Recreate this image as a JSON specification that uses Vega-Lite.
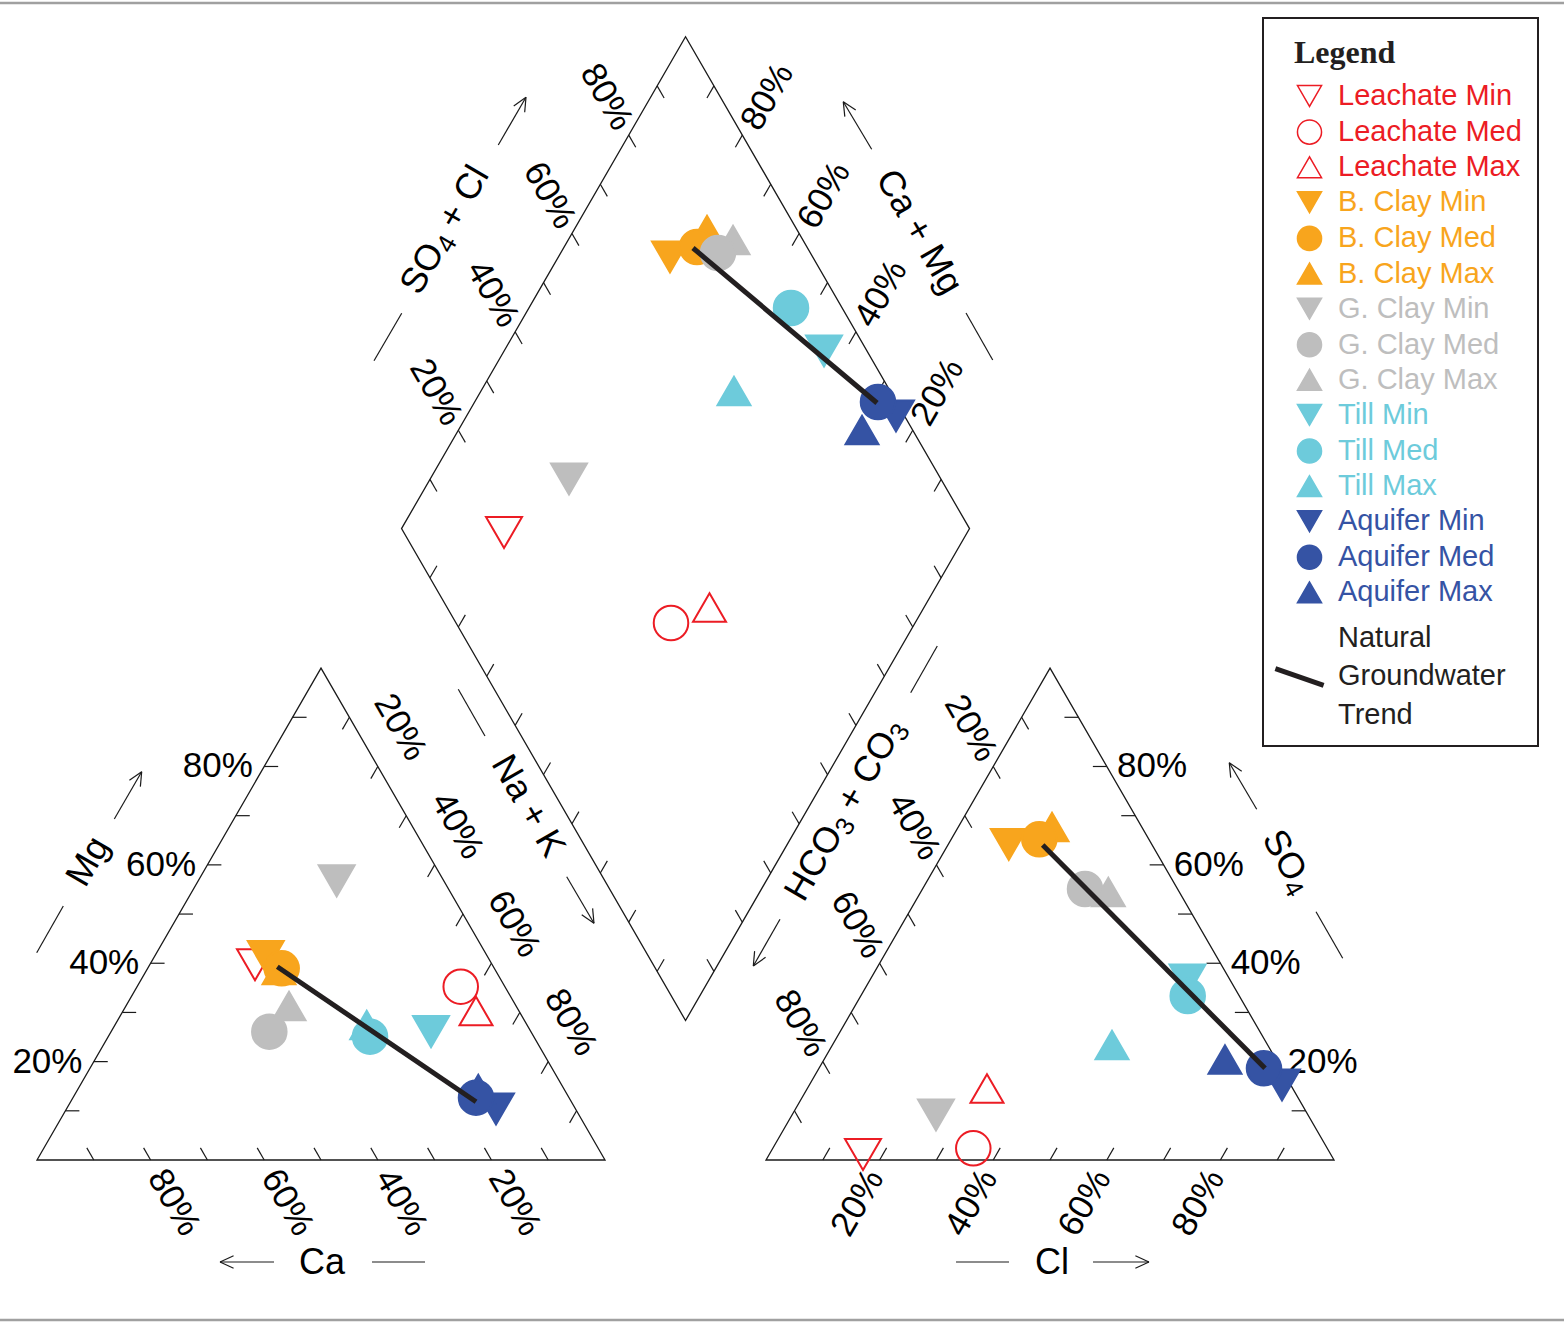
{
  "$schema": "https://vega.github.io/schema/vega-lite/v6.json",
  "width": 1564,
  "height": 1323,
  "autosize": {"type": "none"},
  "padding": 0,
  "background": "#ffffff",
  "config": {"font": "Liberation Sans", "view": {"stroke": null}},
  "datasets": {
    "frame": [
      {"x": -6.52, "x2": 268.84, "y": 203.7},
      {"x": -6.52, "x2": 268.84, "y": -28.17}
    ],
    "outline": [
      {"shape": "left", "i": 0, "x": 50, "y": 0},
      {"shape": "left", "i": 1, "x": 100, "y": 0},
      {"shape": "left", "i": 2, "x": 50, "y": 86.6},
      {"shape": "left", "i": 3, "x": 0, "y": 0},
      {"shape": "left", "i": 4, "x": 50, "y": 0},
      {"shape": "right", "i": 0, "x": 178.35, "y": 0},
      {"shape": "right", "i": 1, "x": 228.35, "y": 0},
      {"shape": "right", "i": 2, "x": 178.35, "y": 86.6},
      {"shape": "right", "i": 3, "x": 128.35, "y": 0},
      {"shape": "right", "i": 4, "x": 178.35, "y": 0},
      {"shape": "diamond", "i": 0, "x": 89.18, "y": 154.46},
      {"shape": "diamond", "i": 1, "x": 114.18, "y": 197.76},
      {"shape": "diamond", "i": 2, "x": 164.18, "y": 111.16},
      {"shape": "diamond", "i": 3, "x": 114.18, "y": 24.55},
      {"shape": "diamond", "i": 4, "x": 64.18, "y": 111.16},
      {"shape": "diamond", "i": 5, "x": 89.18, "y": 154.46}
    ],
    "segs": [
      {"x": 10, "y": 0, "x2": 8.77, "y2": 2.13}, {"x": 20, "y": 0, "x2": 18.77, "y2": 2.13}, {"x": 30, "y": 0, "x2": 28.77, "y2": 2.13},
      {"x": 40, "y": 0, "x2": 38.77, "y2": 2.13}, {"x": 50, "y": 0, "x2": 48.77, "y2": 2.13}, {"x": 60, "y": 0, "x2": 58.77, "y2": 2.13},
      {"x": 70, "y": 0, "x2": 68.77, "y2": 2.13}, {"x": 80, "y": 0, "x2": 78.77, "y2": 2.13}, {"x": 90, "y": 0, "x2": 88.77, "y2": 2.13},
      {"x": 5, "y": 8.66, "x2": 7.46, "y2": 8.66}, {"x": 10, "y": 17.32, "x2": 12.46, "y2": 17.32}, {"x": 15, "y": 25.98, "x2": 17.46, "y2": 25.98},
      {"x": 20, "y": 34.64, "x2": 22.46, "y2": 34.64}, {"x": 25, "y": 43.3, "x2": 27.46, "y2": 43.3}, {"x": 30, "y": 51.96, "x2": 32.46, "y2": 51.96},
      {"x": 35, "y": 60.62, "x2": 37.46, "y2": 60.62}, {"x": 40, "y": 69.28, "x2": 42.46, "y2": 69.28}, {"x": 45, "y": 77.94, "x2": 47.46, "y2": 77.94},
      {"x": 95, "y": 8.66, "x2": 93.77, "y2": 6.53}, {"x": 90, "y": 17.32, "x2": 88.77, "y2": 15.19}, {"x": 85, "y": 25.98, "x2": 83.77, "y2": 23.85},
      {"x": 80, "y": 34.64, "x2": 78.77, "y2": 32.51}, {"x": 75, "y": 43.3, "x2": 73.77, "y2": 41.17}, {"x": 70, "y": 51.96, "x2": 68.77, "y2": 49.83},
      {"x": 65, "y": 60.62, "x2": 63.77, "y2": 58.49}, {"x": 60, "y": 69.28, "x2": 58.77, "y2": 67.15}, {"x": 55, "y": 77.94, "x2": 53.77, "y2": 75.81},
      {"x": 138.35, "y": 0, "x2": 139.58, "y2": 2.13}, {"x": 148.35, "y": 0, "x2": 149.58, "y2": 2.13}, {"x": 158.35, "y": 0, "x2": 159.58, "y2": 2.13},
      {"x": 168.35, "y": 0, "x2": 169.58, "y2": 2.13}, {"x": 178.35, "y": 0, "x2": 179.58, "y2": 2.13}, {"x": 188.35, "y": 0, "x2": 189.58, "y2": 2.13},
      {"x": 198.35, "y": 0, "x2": 199.58, "y2": 2.13}, {"x": 208.35, "y": 0, "x2": 209.58, "y2": 2.13}, {"x": 218.35, "y": 0, "x2": 219.58, "y2": 2.13},
      {"x": 133.35, "y": 8.66, "x2": 134.58, "y2": 6.53}, {"x": 138.35, "y": 17.32, "x2": 139.58, "y2": 15.19}, {"x": 143.35, "y": 25.98, "x2": 144.58, "y2": 23.85},
      {"x": 148.35, "y": 34.64, "x2": 149.58, "y2": 32.51}, {"x": 153.35, "y": 43.3, "x2": 154.58, "y2": 41.17}, {"x": 158.35, "y": 51.96, "x2": 159.58, "y2": 49.83},
      {"x": 163.35, "y": 60.62, "x2": 164.58, "y2": 58.49}, {"x": 168.35, "y": 69.28, "x2": 169.58, "y2": 67.15}, {"x": 173.35, "y": 77.94, "x2": 174.58, "y2": 75.81},
      {"x": 223.35, "y": 8.66, "x2": 220.89, "y2": 8.66}, {"x": 218.35, "y": 17.32, "x2": 215.89, "y2": 17.32}, {"x": 213.35, "y": 25.98, "x2": 210.89, "y2": 25.98},
      {"x": 208.35, "y": 34.64, "x2": 205.89, "y2": 34.64}, {"x": 203.35, "y": 43.3, "x2": 200.89, "y2": 43.3}, {"x": 198.35, "y": 51.96, "x2": 195.89, "y2": 51.96},
      {"x": 193.35, "y": 60.62, "x2": 190.89, "y2": 60.62}, {"x": 188.35, "y": 69.28, "x2": 185.89, "y2": 69.28}, {"x": 183.35, "y": 77.94, "x2": 180.89, "y2": 77.94},
      {"x": 69.18, "y": 119.82, "x2": 70.41, "y2": 117.69}, {"x": 74.18, "y": 128.48, "x2": 75.41, "y2": 126.35}, {"x": 79.18, "y": 137.14, "x2": 80.41, "y2": 135.01},
      {"x": 84.18, "y": 145.8, "x2": 85.41, "y2": 143.67}, {"x": 89.18, "y": 154.46, "x2": 90.41, "y2": 152.33}, {"x": 94.18, "y": 163.12, "x2": 95.41, "y2": 160.99},
      {"x": 99.18, "y": 171.78, "x2": 100.41, "y2": 169.65}, {"x": 104.18, "y": 180.44, "x2": 105.41, "y2": 178.31}, {"x": 109.18, "y": 189.1, "x2": 110.41, "y2": 186.97},
      {"x": 119.18, "y": 189.1, "x2": 117.95, "y2": 186.97}, {"x": 124.18, "y": 180.44, "x2": 122.95, "y2": 178.31}, {"x": 129.18, "y": 171.78, "x2": 127.95, "y2": 169.65},
      {"x": 134.18, "y": 163.12, "x2": 132.95, "y2": 160.99}, {"x": 139.18, "y": 154.46, "x2": 137.95, "y2": 152.33}, {"x": 144.18, "y": 145.8, "x2": 142.95, "y2": 143.67},
      {"x": 149.18, "y": 137.14, "x2": 147.95, "y2": 135.01}, {"x": 154.18, "y": 128.48, "x2": 152.95, "y2": 126.35}, {"x": 159.18, "y": 119.82, "x2": 157.95, "y2": 117.69},
      {"x": 69.18, "y": 102.5, "x2": 70.41, "y2": 104.63}, {"x": 74.18, "y": 93.84, "x2": 75.41, "y2": 95.97}, {"x": 79.18, "y": 85.18, "x2": 80.41, "y2": 87.31},
      {"x": 84.18, "y": 76.52, "x2": 85.41, "y2": 78.65}, {"x": 89.18, "y": 67.86, "x2": 90.41, "y2": 69.99}, {"x": 94.18, "y": 59.2, "x2": 95.41, "y2": 61.33},
      {"x": 99.18, "y": 50.54, "x2": 100.41, "y2": 52.67}, {"x": 104.18, "y": 41.88, "x2": 105.41, "y2": 44.01}, {"x": 109.18, "y": 33.22, "x2": 110.41, "y2": 35.35},
      {"x": 119.18, "y": 33.21, "x2": 117.95, "y2": 35.34}, {"x": 124.18, "y": 41.87, "x2": 122.95, "y2": 44.0}, {"x": 129.18, "y": 50.53, "x2": 127.95, "y2": 52.66},
      {"x": 134.18, "y": 59.19, "x2": 132.95, "y2": 61.32}, {"x": 139.18, "y": 67.85, "x2": 137.95, "y2": 69.98}, {"x": 144.18, "y": 76.51, "x2": 142.95, "y2": 78.64},
      {"x": 149.18, "y": 85.17, "x2": 147.95, "y2": 87.3}, {"x": 154.18, "y": 93.83, "x2": 152.95, "y2": 95.96}, {"x": 159.18, "y": 102.49, "x2": 157.95, "y2": 104.62},
      {"x": 41.73, "y": -17.96, "x2": 32.22, "y2": -17.96}, {"x": 32.22, "y": -17.96, "x2": 34.61, "y2": -16.85}, {"x": 32.22, "y": -17.96, "x2": 34.61, "y2": -19.07},
      {"x": 185.92, "y": -17.96, "x2": 195.77, "y2": -17.96}, {"x": 195.77, "y": -17.96, "x2": 193.38, "y2": -16.85}, {"x": 195.77, "y": -17.96, "x2": 193.38, "y2": -19.07},
      {"x": 13.61, "y": 60.04, "x2": 18.43, "y2": 68.36}, {"x": 18.43, "y": 68.36, "x2": 16.27, "y2": 66.85}, {"x": 18.43, "y": 68.36, "x2": 18.2, "y2": 65.74},
      {"x": 81.21, "y": 178.7, "x2": 86.09, "y2": 187.1}, {"x": 86.09, "y": 187.1, "x2": 83.93, "y2": 185.58}, {"x": 86.09, "y": 187.1, "x2": 85.86, "y2": 184.47},
      {"x": 146.95, "y": 177.94, "x2": 141.95, "y2": 186.32}, {"x": 141.95, "y": 186.32, "x2": 142.22, "y2": 183.7}, {"x": 141.95, "y": 186.32, "x2": 144.14, "y2": 184.84},
      {"x": 93.26, "y": 49.88, "x2": 98.06, "y2": 41.67}, {"x": 98.06, "y": 41.67, "x2": 97.82, "y2": 44.3}, {"x": 98.06, "y": 41.67, "x2": 95.9, "y2": 43.17},
      {"x": 130.81, "y": 42.38, "x2": 126.11, "y2": 34.15}, {"x": 126.11, "y": 34.15, "x2": 128.27, "y2": 35.69}, {"x": 126.11, "y": 34.15, "x2": 126.34, "y2": 36.78},
      {"x": 214.74, "y": 61.74, "x2": 209.91, "y2": 69.95}, {"x": 209.91, "y": 69.95, "x2": 210.16, "y2": 67.32}, {"x": 209.91, "y": 69.95, "x2": 212.1, "y2": 68.45},
      {"x": 58.98, "y": -17.96, "x2": 68.31, "y2": -17.96}, {"x": 161.8, "y": -17.96, "x2": 171.13, "y2": -17.96},
      {"x": -0.05, "y": 36.5, "x2": 4.63, "y2": 44.72}, {"x": 59.33, "y": 140.72, "x2": 64.21, "y2": 149.07},
      {"x": 163.56, "y": 149.12, "x2": 168.26, "y2": 140.85}, {"x": 74.17, "y": 82.87, "x2": 78.87, "y2": 74.65},
      {"x": 153.82, "y": 82.27, "x2": 158.5, "y2": 90.49}, {"x": 225.18, "y": 43.71, "x2": 229.88, "y2": 35.51}
    ],
    "labels": [
      {"set": "right", "text": "80%", "x": 38.0, "y": 69.28},
      {"set": "right", "text": "60%", "x": 28.0, "y": 51.96},
      {"set": "right", "text": "40%", "x": 18.0, "y": 34.64},
      {"set": "right", "text": "20%", "x": 8.0, "y": 17.32},
      {"set": "left", "text": "80%", "x": 190.15, "y": 69.28},
      {"set": "left", "text": "60%", "x": 200.15, "y": 51.96},
      {"set": "left", "text": "40%", "x": 210.15, "y": 34.64},
      {"set": "left", "text": "20%", "x": 220.15, "y": 17.32},
      {"set": "p60", "text": "80%", "x": 24.12, "y": -7.45},
      {"set": "p60", "text": "60%", "x": 44.12, "y": -7.45},
      {"set": "p60", "text": "40%", "x": 64.12, "y": -7.45},
      {"set": "p60", "text": "20%", "x": 84.12, "y": -7.45},
      {"set": "p60", "text": "20%", "x": 63.98, "y": 76.2},
      {"set": "p60", "text": "40%", "x": 73.98, "y": 58.87},
      {"set": "p60", "text": "60%", "x": 83.98, "y": 41.55},
      {"set": "p60", "text": "80%", "x": 93.98, "y": 24.23},
      {"set": "p60", "text": "80%", "x": 100.26, "y": 187.15},
      {"set": "p60", "text": "60%", "x": 90.26, "y": 169.83},
      {"set": "p60", "text": "40%", "x": 80.26, "y": 152.5},
      {"set": "p60", "text": "20%", "x": 70.26, "y": 135.18},
      {"set": "p60", "text": "20%", "x": 164.4, "y": 76.04},
      {"set": "p60", "text": "40%", "x": 154.4, "y": 58.71},
      {"set": "p60", "text": "60%", "x": 144.4, "y": 41.39},
      {"set": "p60", "text": "80%", "x": 134.4, "y": 24.06},
      {"set": "m60", "text": "80%", "x": 128.55, "y": 187.15},
      {"set": "m60", "text": "60%", "x": 138.55, "y": 169.83},
      {"set": "m60", "text": "40%", "x": 148.55, "y": 152.51},
      {"set": "m60", "text": "20%", "x": 158.55, "y": 135.19},
      {"set": "m60", "text": "20%", "x": 144.47, "y": -7.5},
      {"set": "m60", "text": "40%", "x": 164.47, "y": -7.5},
      {"set": "m60", "text": "60%", "x": 184.47, "y": -7.5},
      {"set": "m60", "text": "80%", "x": 204.47, "y": -7.5}
    ],
    "titles": [
      {"set": "h", "text": "Ca", "x": 50.18, "y": -18.13},
      {"set": "h", "text": "Cl", "x": 178.7, "y": -18.13},
      {"set": "m60", "text": "Mg", "x": 9.03, "y": 52.52},
      {"set": "p60", "text": "Na + K", "x": 86.44, "y": 62.32},
      {"set": "p60", "text": "Ca + Mg", "x": 155.28, "y": 163.38}
    ],
    "pieces": [
      {"set": "m60", "text": "SO", "x": 65.63, "y": 152.98},
      {"set": "m60", "text": "+ Cl", "x": 72.32, "y": 164.54},
      {"set": "m60", "text": "HCO", "x": 133.33, "y": 46.16},
      {"set": "m60", "text": "+ CO", "x": 142.47, "y": 62.01},
      {"set": "p60", "text": "SO", "x": 217.25, "y": 57.55}
    ],
    "subs": [
      {"set": "m60", "text": "4", "x": 71.58, "y": 160.11},
      {"set": "m60", "text": "3", "x": 141.74, "y": 57.57},
      {"set": "m60", "text": "3", "x": 151.33, "y": 74.17},
      {"set": "p60", "text": "4", "x": 220.46, "y": 48.84}
    ],
    "points": [
      {"series": "Leachate Min", "stat": "Min", "x": 82.22, "y": 110.48},
      {"series": "Leachate Min", "stat": "Min", "x": 38.38, "y": 34.38},
      {"series": "Leachate Min", "stat": "Min", "x": 145.42, "y": 0.97},
      {"series": "Leachate Med", "stat": "Med", "x": 111.62, "y": 94.54},
      {"series": "Leachate Med", "stat": "Med", "x": 74.6, "y": 30.51},
      {"series": "Leachate Med", "stat": "Med", "x": 164.84, "y": 2.06},
      {"series": "Leachate Max", "stat": "Max", "x": 118.4, "y": 97.27},
      {"series": "Leachate Max", "stat": "Max", "x": 77.29, "y": 26.23},
      {"series": "Leachate Max", "stat": "Max", "x": 167.25, "y": 12.59},
      {"series": "B. Clay Min", "stat": "Min", "x": 111.44, "y": 158.98},
      {"series": "B. Clay Min", "stat": "Min", "x": 40.28, "y": 35.79},
      {"series": "B. Clay Min", "stat": "Min", "x": 171.09, "y": 55.55},
      {"series": "B. Clay Max", "stat": "Max", "x": 117.96, "y": 163.73},
      {"series": "B. Clay Max", "stat": "Max", "x": 42.61, "y": 33.45},
      {"series": "B. Clay Max", "stat": "Max", "x": 178.7, "y": 58.63},
      {"series": "B. Clay Med", "stat": "Med", "x": 116.2, "y": 160.74},
      {"series": "B. Clay Med", "stat": "Med", "x": 43.08, "y": 33.75},
      {"series": "B. Clay Med", "stat": "Med", "x": 176.46, "y": 56.46},
      {"series": "G. Clay Min", "stat": "Min", "x": 93.66, "y": 119.89},
      {"series": "G. Clay Min", "stat": "Min", "x": 52.76, "y": 49.15},
      {"series": "G. Clay Min", "stat": "Min", "x": 158.27, "y": 7.92},
      {"series": "G. Clay Max", "stat": "Max", "x": 122.54, "y": 161.97},
      {"series": "G. Clay Max", "stat": "Max", "x": 44.37, "y": 27.11},
      {"series": "G. Clay Max", "stat": "Max", "x": 188.61, "y": 47.18},
      {"series": "G. Clay Med", "stat": "Med", "x": 119.89, "y": 159.68},
      {"series": "G. Clay Med", "stat": "Med", "x": 40.9, "y": 22.59},
      {"series": "G. Clay Med", "stat": "Med", "x": 184.51, "y": 47.71},
      {"series": "Till Min", "stat": "Min", "x": 138.56, "y": 142.43},
      {"series": "Till Min", "stat": "Min", "x": 69.37, "y": 22.59},
      {"series": "Till Min", "stat": "Min", "x": 202.55, "y": 31.69},
      {"series": "Till Max", "stat": "Max", "x": 122.71, "y": 135.39},
      {"series": "Till Max", "stat": "Max", "x": 58.05, "y": 23.77},
      {"series": "Till Max", "stat": "Max", "x": 189.26, "y": 20.25},
      {"series": "Till Med", "stat": "Med", "x": 132.75, "y": 150.0},
      {"series": "Till Med", "stat": "Med", "x": 58.63, "y": 21.71},
      {"series": "Till Med", "stat": "Med", "x": 202.59, "y": 28.87},
      {"series": "Aquifer Min", "stat": "Min", "x": 151.23, "y": 130.99},
      {"series": "Aquifer Min", "stat": "Min", "x": 80.81, "y": 8.98},
      {"series": "Aquifer Min", "stat": "Min", "x": 219.19, "y": 13.2},
      {"series": "Aquifer Max", "stat": "Max", "x": 145.25, "y": 128.52},
      {"series": "Aquifer Max", "stat": "Max", "x": 77.69, "y": 12.5},
      {"series": "Aquifer Max", "stat": "Max", "x": 209.15, "y": 17.69},
      {"series": "Aquifer Med", "stat": "Med", "x": 148.06, "y": 133.45},
      {"series": "Aquifer Med", "stat": "Med", "x": 77.29, "y": 10.97},
      {"series": "Aquifer Med", "stat": "Med", "x": 216.02, "y": 16.14}
    ],
    "trend": [
      {"panel": "diamond", "x": 115.49, "y": 160.56},
      {"panel": "diamond", "x": 147.89, "y": 133.27},
      {"panel": "left", "x": 42.31, "y": 34.03},
      {"panel": "left", "x": 77.29, "y": 10.26},
      {"panel": "right", "x": 177.06, "y": 55.46},
      {"panel": "right", "x": 216.2, "y": 16.14}
    ]
  },
  "encoding": {
    "x": {"field": "x", "type": "quantitative", "scale": {"domain": [-6.5141, 268.838], "nice": false, "zero": false}, "axis": null},
    "y": {"field": "y", "type": "quantitative", "scale": {"domain": [-28.6972, 204.2254], "nice": false, "zero": false}, "axis": null}
  },
  "layer": [
    {
      "data": {"name": "frame"},
      "mark": {"type": "rule", "color": "#a0a0a0", "strokeWidth": 2.5},
      "encoding": {"x2": {"field": "x2"}}
    },
    {
      "data": {"name": "outline"},
      "mark": {"type": "line", "color": "#1a1a1a", "strokeWidth": 1.3, "strokeJoin": "miter"},
      "encoding": {"detail": {"field": "shape"}, "order": {"field": "i", "type": "quantitative"}}
    },
    {
      "data": {"name": "segs"},
      "mark": {"type": "rule", "color": "#1a1a1a", "strokeWidth": 1.2},
      "encoding": {"x2": {"field": "x2"}, "y2": {"field": "y2"}}
    },
    {
      "data": {"name": "labels"},
      "transform": [{"filter": "datum.set == 'right'"}],
      "mark": {"type": "text", "font": "Liberation Sans", "fontSize": 35, "align": "right", "baseline": "middle", "color": "#000000"},
      "encoding": {"text": {"field": "text"}}
    },
    {
      "data": {"name": "labels"},
      "transform": [{"filter": "datum.set == 'left'"}],
      "mark": {"type": "text", "font": "Liberation Sans", "fontSize": 35, "align": "left", "baseline": "middle", "color": "#000000"},
      "encoding": {"text": {"field": "text"}}
    },
    {
      "data": {"name": "labels"},
      "transform": [{"filter": "datum.set == 'p60'"}],
      "mark": {"type": "text", "font": "Liberation Sans", "fontSize": 35, "align": "center", "baseline": "middle", "angle": 60, "color": "#000000"},
      "encoding": {"text": {"field": "text"}}
    },
    {
      "data": {"name": "labels"},
      "transform": [{"filter": "datum.set == 'm60'"}],
      "mark": {"type": "text", "font": "Liberation Sans", "fontSize": 35, "align": "center", "baseline": "middle", "angle": 300, "color": "#000000"},
      "encoding": {"text": {"field": "text"}}
    },
    {
      "data": {"name": "titles"},
      "transform": [{"filter": "datum.set == 'h'"}],
      "mark": {"type": "text", "font": "Liberation Sans", "fontSize": 36, "align": "center", "baseline": "middle", "color": "#000000"},
      "encoding": {"text": {"field": "text"}}
    },
    {
      "data": {"name": "titles"},
      "transform": [{"filter": "datum.set == 'p60'"}],
      "mark": {"type": "text", "font": "Liberation Sans", "fontSize": 36, "align": "center", "baseline": "middle", "angle": 60, "color": "#000000"},
      "encoding": {"text": {"field": "text"}}
    },
    {
      "data": {"name": "titles"},
      "transform": [{"filter": "datum.set == 'm60'"}],
      "mark": {"type": "text", "font": "Liberation Sans", "fontSize": 36, "align": "center", "baseline": "middle", "angle": 300, "color": "#000000"},
      "encoding": {"text": {"field": "text"}}
    },
    {
      "data": {"name": "pieces"},
      "transform": [{"filter": "datum.set == 'm60'"}],
      "mark": {"type": "text", "font": "Liberation Sans", "fontSize": 36, "align": "left", "baseline": "middle", "angle": 300, "color": "#000000"},
      "encoding": {"text": {"field": "text"}}
    },
    {
      "data": {"name": "pieces"},
      "transform": [{"filter": "datum.set == 'p60'"}],
      "mark": {"type": "text", "font": "Liberation Sans", "fontSize": 36, "align": "left", "baseline": "middle", "angle": 60, "color": "#000000"},
      "encoding": {"text": {"field": "text"}}
    },
    {
      "data": {"name": "subs"},
      "transform": [{"filter": "datum.set == 'm60'"}],
      "mark": {"type": "text", "font": "Liberation Sans", "fontSize": 26, "align": "left", "baseline": "middle", "angle": 300, "color": "#000000"},
      "encoding": {"text": {"field": "text"}}
    },
    {
      "data": {"name": "subs"},
      "transform": [{"filter": "datum.set == 'p60'"}],
      "mark": {"type": "text", "font": "Liberation Sans", "fontSize": 26, "align": "left", "baseline": "middle", "angle": 60, "color": "#000000"},
      "encoding": {"text": {"field": "text"}}
    },
    {
      "data": {"name": "points"},
      "mark": {"type": "point", "filled": true, "opacity": 1, "strokeWidth": 2},
      "encoding": {
        "shape": {
          "field": "series", "type": "nominal",
          "scale": {
            "domain": ["Leachate Min", "Leachate Med", "Leachate Max", "B. Clay Min", "B. Clay Med", "B. Clay Max", "G. Clay Min", "G. Clay Med", "G. Clay Max", "Till Min", "Till Med", "Till Max", "Aquifer Min", "Aquifer Med", "Aquifer Max", "Natural Groundwater Trend"],
            "range": ["triangle-down", "circle", "triangle-up", "triangle-down", "circle", "triangle-up", "triangle-down", "circle", "triangle-up", "triangle-down", "circle", "triangle-up", "triangle-down", "circle", "triangle-up", "stroke"]
          },
          "legend": {
            "title": "Legend", "orient": "none", "legendX": 1263, "legendY": 18, "padding": 16,
            "strokeColor": "#231f20", "fillColor": "#ffffff",
            "titleFont": "Liberation Serif", "titleFontSize": 32, "titleFontWeight": "bold", "titleColor": "#231f20", "titlePadding": 15.5,
            "labelFont": "Liberation Sans", "labelFontSize": 29, "labelLimit": 400, "labelOffset": 14,
            "symbolSize": 580, "symbolStrokeWidth": 1.5, "symbolOffset": 16, "rowPadding": 5.1,
            "labelExpr": "datum.value == 'Natural Groundwater Trend' ? ['Natural', 'Groundwater', 'Trend'] : datum.label",
            "encoding": {
              "title": {"dx": {"value": 15}, "dy": {"value": 4}},
              "labels": {
                "fill": {"value": {"expr": "indexof(datum.value, 'Leachate') == 0 ? '#ec1c24' : indexof(datum.value, 'B. Clay') == 0 ? '#f8a51d' : indexof(datum.value, 'G. Clay') == 0 ? '#bebebe' : indexof(datum.value, 'Till') == 0 ? '#6dcbdb' : indexof(datum.value, 'Aquifer') == 0 ? '#3553a4' : '#231f20'"}},
                "lineHeight": {"value": 38.5},
                "dy": {"value": {"expr": "datum.value == 'Natural Groundwater Trend' ? 10 : 0"}}
              },
              "symbols": {
                "size": {"value": {"expr": "datum.value == 'Natural Groundwater Trend' ? 2600 : 580"}},
                "strokeWidth": {"value": {"expr": "datum.value == 'Natural Groundwater Trend' ? 5 : 1.5"}},
                "angle": {"value": {"expr": "datum.value == 'Natural Groundwater Trend' ? 19 : 0"}},
                "x": {"value": {"expr": "0.5 * datum.size + (datum.value == 'Natural Groundwater Trend' ? 6 : 16)"}},
                "y": {"value": {"expr": "0.5 * datum.size + (datum.value == 'Natural Groundwater Trend' ? 49.5 : 0)"}}
              },
              "legend": {"strokeWidth": {"value": 2}}
            }
          }
        },
        "fill": {
          "field": "series", "type": "nominal",
          "scale": {
            "domain": ["Leachate Min", "Leachate Med", "Leachate Max", "B. Clay Min", "B. Clay Med", "B. Clay Max", "G. Clay Min", "G. Clay Med", "G. Clay Max", "Till Min", "Till Med", "Till Max", "Aquifer Min", "Aquifer Med", "Aquifer Max", "Natural Groundwater Trend"],
            "range": ["transparent", "transparent", "transparent", "#f8a51d", "#f8a51d", "#f8a51d", "#bebebe", "#bebebe", "#bebebe", "#6dcbdb", "#6dcbdb", "#6dcbdb", "#3553a4", "#3553a4", "#3553a4", "transparent"]
          }
        },
        "stroke": {
          "field": "series", "type": "nominal",
          "scale": {
            "domain": ["Leachate Min", "Leachate Med", "Leachate Max", "B. Clay Min", "B. Clay Med", "B. Clay Max", "G. Clay Min", "G. Clay Med", "G. Clay Max", "Till Min", "Till Med", "Till Max", "Aquifer Min", "Aquifer Med", "Aquifer Max", "Natural Groundwater Trend"],
            "range": ["#ec1c24", "#ec1c24", "#ec1c24", "#f8a51d", "#f8a51d", "#f8a51d", "#bebebe", "#bebebe", "#bebebe", "#6dcbdb", "#6dcbdb", "#6dcbdb", "#3553a4", "#3553a4", "#3553a4", "#231f20"]
          }
        },
        "size": {
          "field": "stat", "type": "ordinal",
          "scale": {"domain": ["Min", "Med", "Max"], "range": [1296, 1089, 1296]},
          "legend": null
        }
      }
    },
    {
      "data": {"name": "trend"},
      "mark": {"type": "line", "color": "#231f20", "strokeWidth": 5},
      "encoding": {"detail": {"field": "panel"}}
    }
  ]
}
